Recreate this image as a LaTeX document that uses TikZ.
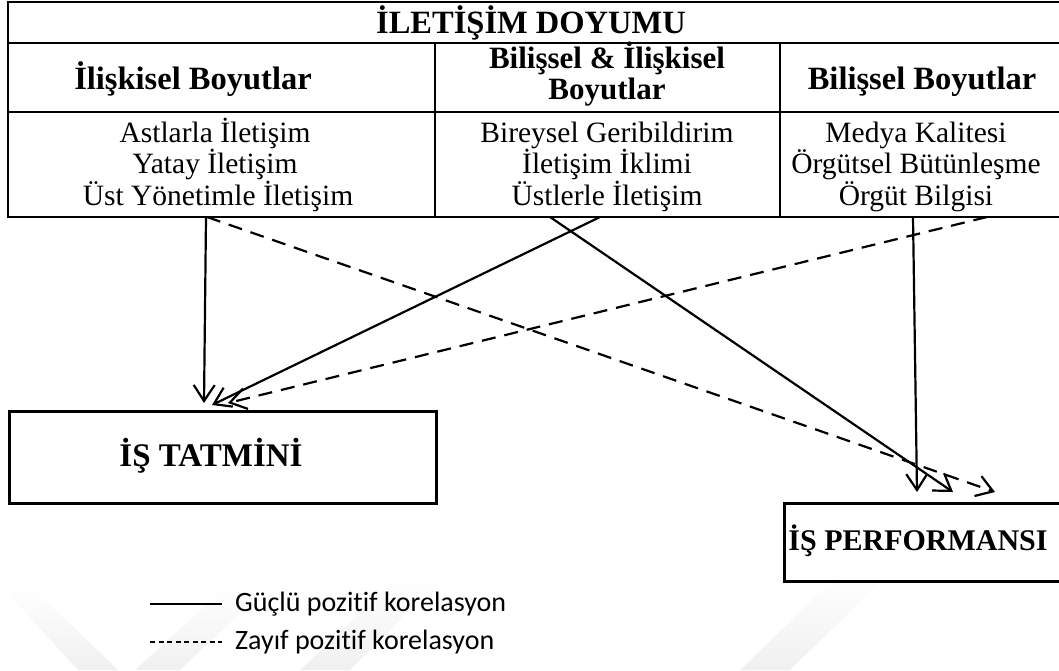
\documentclass[tikz,border=0pt]{standalone}
\usepackage{fontspec}
\setmainfont{Liberation Serif}
\newfontfamily\legendfont{Carlito}[Ligatures=NoCommon]
\usetikzlibrary{arrows.meta,fadings}

\begin{document}
\begin{tikzpicture}[x=1pt,y=-1pt,
  rule/.style={line width=2.8pt},
  outcome/.style={draw,line width=3.2pt},
  outtext/.style={inner sep=0pt,font=\fontsize{31}{36}\selectfont\bfseries},
  celltext/.style={anchor=base,inner sep=0pt,font=\fontsize{29.5}{32}\selectfont},
  headtext/.style={anchor=base,inner sep=0pt,font=\fontsize{32.5}{34}\selectfont\bfseries},
  strong/.style={line width=2.2pt,-{Straight Barb[length=16pt,width=21pt]}},
  weak/.style={strong,dash pattern=on 14pt off 9pt},
  legtext/.style={anchor=west,inner sep=0pt,font=\legendfont\fontsize{28}{30}\selectfont},
  stripe/.style={fill=black!6,path fading=north}
]
\useasboundingbox (0,0) rectangle (1059,670);

% faint background stripes
\fill[stripe] (0,585) -- (30,585) -- (118,670) -- (78,670) -- cycle;
\fill[stripe] (135,670) -- (180,670) -- (270,585) -- (228,585) -- cycle;
\fill[stripe] (300,670) -- (350,670) -- (445,575) -- (400,575) -- cycle;
\fill[stripe] (740,670) -- (790,670) -- (890,573) -- (840,573) -- cycle;

% table grid
\draw[rule] (8,2) -- (1062,2);
\draw[rule] (8,43) -- (1062,43);
\draw[rule] (8,112) -- (1062,112);
\draw[rule] (8,217) -- (1062,217);
\draw[rule] (8,0.6) -- (8,218.4);
\draw[rule] (435,43) -- (435,217);
\draw[rule] (780,43) -- (780,217);

% title and column heads
\node[headtext] (title) at (531,33) {İLETİŞİM DOYUMU};
\node[headtext] (h1) at (193,89) {İlişkisel Boyutlar};
\node[headtext,font=\fontsize{31}{34}\selectfont\bfseries] (h2a) at (607,68) {Bilişsel \& İlişkisel};
\node[headtext,font=\fontsize{31}{34}\selectfont\bfseries] (h2b) at (607,99) {Boyutlar};
\node[headtext] (h3) at (922,89) {Bilişsel Boyutlar};

% column contents
\node[celltext] (c11) at (215,142) {Astlarla İletişim};
\node[celltext] (c12) at (215,173.5) {Yatay İletişim};
\node[celltext] (c13) at (218,205) {Üst Yönetimle İletişim};
\node[celltext] (c21) at (607,142) {Bireysel Geribildirim};
\node[celltext] (c22) at (607,173.5) {İletişim İklimi};
\node[celltext] (c23) at (607,205) {Üstlerle İletişim};
\node[celltext] (c31) at (916,142) {Medya Kalitesi};
\node[celltext] (c32) at (916,173.5) {Örgütsel Bütünleşme};
\node[celltext] (c33) at (916,205) {Örgüt Bilgisi};

% outcome boxes
\node[outcome,anchor=north west,minimum width=427pt,minimum height=92pt] (sat) at (8,410) {};
\node[outtext,font=\fontsize{33}{36}\selectfont\bfseries] (satlabel) at (211,456) {İŞ TATMİNİ};
\node[outcome,anchor=north west,minimum width=282pt,minimum height=78pt] (perf) at (783,502) {};
\node[outtext,font=\fontsize{30}{36}\selectfont\bfseries] (perflabel) at (918,541) {İŞ PERFORMANSI};

% connector ends
\coordinate (rA) at (206,217);
\coordinate (rB) at (207,217);
\coordinate (bA) at (600,217);
\coordinate (bB) at (550,217);
\coordinate (cA) at (913,217);
\coordinate (cB) at (987,217);
\coordinate (satA) at (204,403);
\coordinate (satB) at (212,405);
\coordinate (satC) at (228,403);
\coordinate (perfA) at (917,492);
\coordinate (perfB) at (953,492);
\coordinate (perfC) at (995,492);

\draw[strong] (rA) -- (satA);
\draw[strong] (bA) -- (satB);
\draw[weak] (cB) -- (satC);
\draw[weak] (rB) -- (perfC);
\draw[strong] (bB) -- (perfB);
\draw[strong] (cA) -- (perfA);

% legend
\coordinate (l1a) at (150,604);
\coordinate (l1b) at (222,604);
\coordinate (l2a) at (150,642);
\coordinate (l2b) at (222,642);
\draw[line width=1.6pt] (l1a) -- (l1b);
\draw[line width=1.4pt,dash pattern=on 5pt off 3.5pt] (l2a) -- (l2b);
\node[legtext] (g1) at (235,604) {Güçlü pozitif korelasyon};
\node[legtext] (g2) at (235,642) {Zayıf pozitif korelasyon};
\end{tikzpicture}
\end{document}
